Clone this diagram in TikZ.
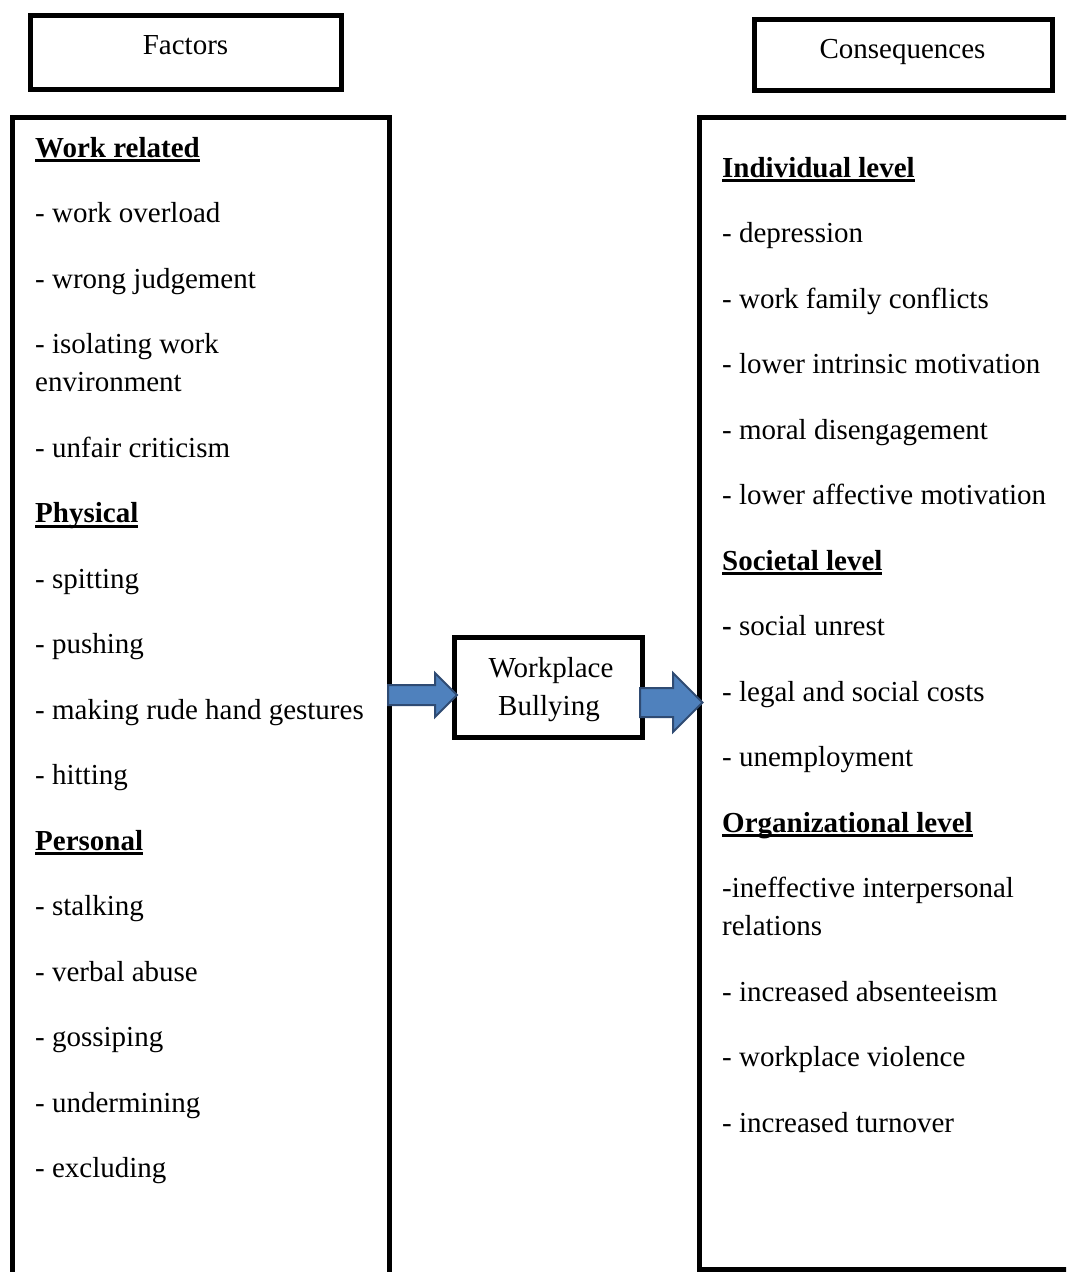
\documentclass[tikz,border=0pt]{standalone}
\usepackage{fontspec}
\setmainfont{Liberation Serif}
\usetikzlibrary{calc}
\definecolor{arrfill}{HTML}{4F81BD}
\definecolor{arrline}{HTML}{2F4B73}
\newcommand\myul[1]{\setbox0\hbox{#1}\rlap{\rule[-5.3pt]{\wd0}{3pt}}\box0}
\begin{document}
\begin{tikzpicture}[x=1pt,y=-1pt,
  frame/.style={draw=black, line width=5pt, rectangle, inner sep=0pt, outer sep=0pt},
  item/.style={anchor=base west, inner sep=0pt, font=\fontsize{29}{38}\selectfont},
  ctext/.style={anchor=base, inner sep=0pt, font=\fontsize{29}{38}\selectfont},
  blockarrow/.style={fill=arrfill, draw=arrline, line width=2pt, line join=miter}]
\useasboundingbox (0,0) rectangle (1066,1272);
\clip (0,0) rectangle (1066,1272);

% title boxes
\node[frame, minimum width=311pt, minimum height=74pt] (factors) at (186,52.5) {};
\node[ctext] (factorsT) at (185.5,54) {Factors};
\node[frame, minimum width=298pt, minimum height=71pt] (conseq) at (903.5,55) {};
\node[ctext] (conseqT) at (902.5,58) {Consequences};

% big boxes
\node[frame, minimum width=377pt, minimum height=1182.5pt] (leftbox) at (201,708.75) {};
\node[frame, minimum width=390.5pt, minimum height=1152pt] (rightbox) at (894.75,693.5) {};

% central box
\node[frame, minimum width=188pt, minimum height=100pt] (wb) at (548.5,687.5) {};
\node[ctext] (wbT1) at (551,677) {Workplace};
\node[ctext] (wbT2) at (549,715) {Bullying};

% left column
\foreach \y/\t [count=\i] in {
  157/{\myul{\textbf{Work related}}},
  222.5/{- work overload},
  288/{- wrong judgement},
  353.5/{- isolating work},
  391.5/{environment},
  457/{- unfair criticism},
  522.5/{\myul{\textbf{Physical}}},
  588/{- spitting},
  653.5/{- pushing},
  719/{- making rude hand gestures},
  784.5/{- hitting},
  850/{\myul{\textbf{Personal}}},
  915.5/{- stalking},
  981/{- verbal abuse},
  1046.5/{- gossiping},
  1112/{- undermining},
  1177.5/{- excluding}}
  \node[item] (L\i) at (35,\y) {\t};

% right column
\foreach \y/\t [count=\i] in {
  177/{\myul{\textbf{Individual level}}},
  242.5/{- depression},
  308/{- work family conflicts},
  373.5/{- lower intrinsic motivation},
  439/{- moral disengagement},
  504.5/{- lower affective motivation},
  570/{\myul{\textbf{Societal level}}},
  635.5/{\textbf{-} social unrest},
  701/{- legal and social costs},
  766.5/{- unemployment},
  832/{\myul{\textbf{Organizational level}}},
  897.5/{-ineffective interpersonal},
  935.5/{relations},
  1001/{- increased absenteeism},
  1066.5/{- workplace violence},
  1132/{- increased turnover}}
  \node[item] (R\i) at (722,\y) {\t};

% block arrows
\coordinate (a1) at ($(leftbox.east |- wb.west)+(-1.5,7.5)$);
\draw[blockarrow] (a1) ++(0,-10) -- ++(47,0) -- ++(0,-12) -- ++(22,22) -- ++(-22,22) -- ++(0,-12) -- ++(-47,0) -- cycle;
\coordinate (a2) at ($(wb.east)+(-2.5,15)$);
\draw[blockarrow] (a2) ++(0,-14.5) -- ++(33,0) -- ++(0,-15) -- ++(29.5,29.5) -- ++(-29.5,29.5) -- ++(0,-15) -- ++(-33,0) -- cycle;
\end{tikzpicture}
\end{document}
